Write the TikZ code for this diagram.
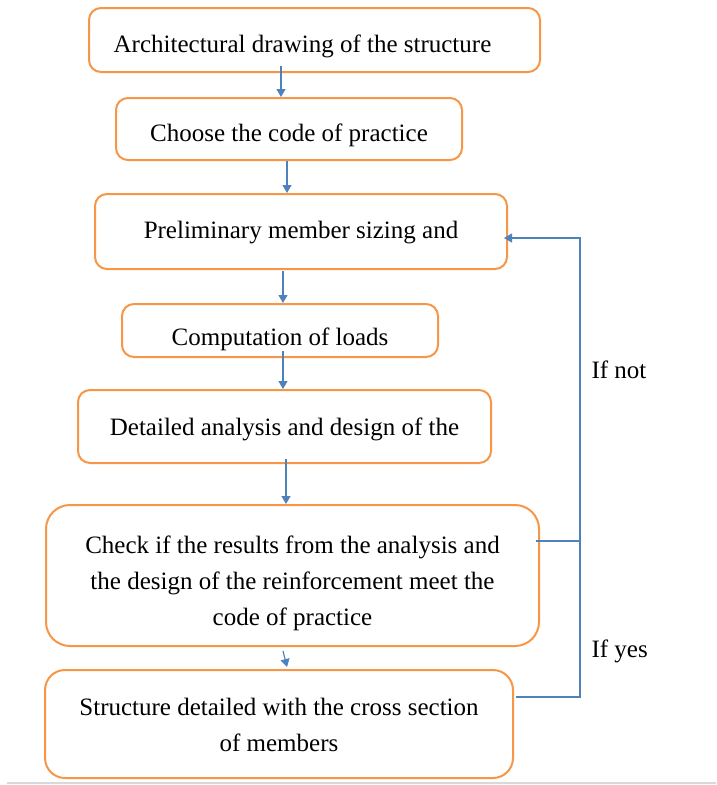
\documentclass[tikz,border=0pt]{standalone}
\usepackage{fontspec}
\setmainfont{Liberation Serif}
\usepackage{xcolor}
\usetikzlibrary{calc,arrows.meta}
\definecolor{naranja}{RGB}{247,150,70}
\definecolor{azul}{RGB}{79,129,189}
\tikzset{
  caja/.style   = {draw=naranja, line width=2pt, rounded corners=12pt, align=center,
                   inner sep=0pt, font=\fontsize{25}{36}\selectfont},
  flecha/.style = {-{Triangle[length=8pt,width=9pt]}, azul, line width=1.1pt},
  linea/.style  = {azul, line width=1.1pt},
  rotulo/.style = {font=\fontsize{25}{30}\selectfont}
}

\begin{document}
\begin{tikzpicture}[x=1pt, y=-1pt]
  \useasboundingbox (0,0) rectangle (716,785);
  \node[caja, minimum width=451pt, minimum height=64pt, text height=30pt, text depth=6pt] (arch) at (314.5,40)
    {Architectural drawing of the structure\hspace*{24pt}};
  \node[caja, minimum width=346pt, minimum height=62pt, text height=30pt, text depth=6pt] (code) at (289,129)
    {Choose the code of practice};
  \node[caja, minimum width=412pt, minimum height=75pt, text height=20pt, text depth=6pt] (prelim) at (301,231.5)
    {Preliminary member sizing and};
  \node[caja, minimum width=316pt, minimum height=53pt, text height=35pt, text depth=6pt] (loads) at (280,330.5)
    {Computation of loads};
  \node[caja, minimum width=413pt, minimum height=73pt, text height=24pt, text depth=6pt] (detail) at (284.5,426.5)
    {Detailed analysis and design of the};
  \node[caja, minimum width=493pt, minimum height=141pt, rounded corners=24pt] (check) at (292.5,575.5)
    {\rule{0pt}{34pt}Check if the results from the analysis and\\the design of the reinforcement meet the\\code of practice};
  \node[caja, minimum width=468pt, minimum height=108pt, rounded corners=20pt] (final) at (279,724)
    {\rule{0pt}{20pt}Structure detailed with the cross section\\of members};
  % flechas principales
  \foreach \a/\b/\dx/\dy in {arch/code/-33.5/7, code/prelim/-2/0, prelim/loads/-18/-1,
                             loads/detail/3/7, detail/check/1.5/5}{
    \coordinate (s) at ([xshift=\dx pt, yshift=\dy pt]\a.south);
    \draw[flecha] (s) -- (s |- \b.north);
  }
  \draw[flecha] ([xshift=-9.5pt, yshift=-4pt]check.south) -- ([xshift=8pt, yshift=2pt]final.north);
  % lazo de retorno
  \coordinate (bus) at (580,0);
  \coordinate (chk) at ([xshift=-4pt, yshift=34.5pt]check.east);
  \coordinate (fin) at ([xshift=2pt, yshift=27pt]final.east);
  \coordinate (pre) at ([xshift=-4pt, yshift=-6.5pt]prelim.east);
  \draw[linea] (chk) -- (chk -| bus);
  \draw[flecha] (fin) -| (bus |- pre) -- (pre);
  \node[rotulo, anchor=west] (ifnot) at (588,370) {If not};
  \node[rotulo, anchor=west] (ifyes) at (588,651) {If yes};
  \draw[black!15, line width=2pt] (7,783) -- (716,783);
\end{tikzpicture}
\end{document}
